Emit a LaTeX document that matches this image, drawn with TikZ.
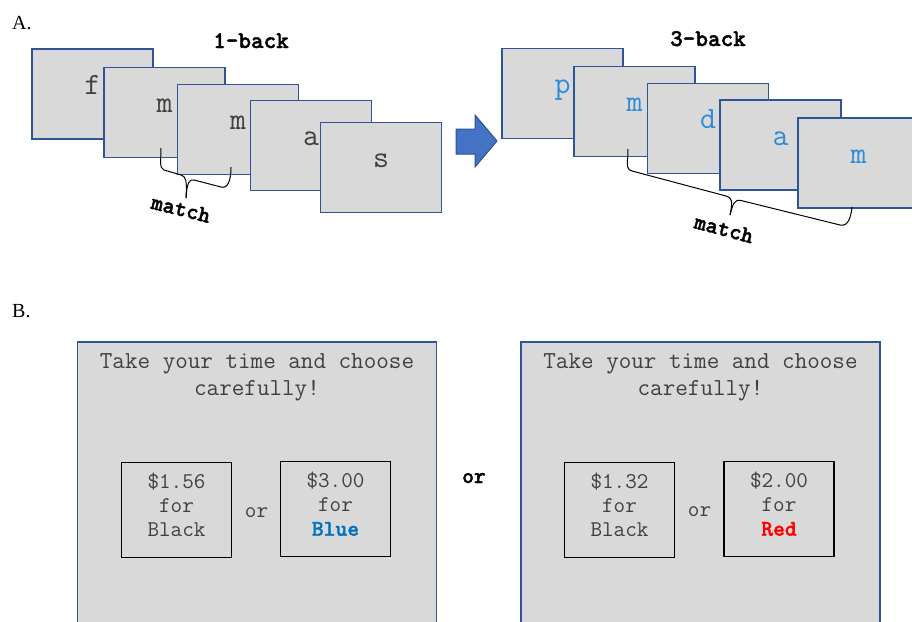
\documentclass[tikz,border=0pt]{standalone}
\usepackage{fontspec}
\setmainfont{Liberation Serif}
\newfontfamily\heavymono{lmmonolt10-bold.otf}[FakeBold=1.6]
\usetikzlibrary{calc}
\definecolor{cardfill}{HTML}{D9D9D9}
\definecolor{cardedge}{HTML}{2F5597}
\definecolor{arrowfill}{HTML}{4472C4}
\definecolor{arrowedge}{HTML}{2F528F}
\definecolor{inktext}{HTML}{404040}
\definecolor{seqblue}{HTML}{2E8BD6}
\definecolor{choiceblue}{HTML}{0070C0}
\definecolor{choicered}{HTML}{FF0000}

\begin{document}
\begin{tikzpicture}[x=1pt,y=-1pt,
  card/.style={draw=cardedge, fill=cardfill, line width=1.6pt,
    minimum width=121pt, minimum height=90pt, inner sep=0pt},
  letter/.style={anchor=base, inner sep=0pt,
    font=\ttfamily\fontsize{31}{31}\selectfont, text=inktext},
  bluelet/.style={letter, text=seqblue},
  title/.style={anchor=base, inner sep=0pt,
    font=\heavymono\fontsize{24}{24}\selectfont},
  matchlbl/.style={inner sep=0pt, font=\heavymono\fontsize{23}{23}\selectfont},
  partlbl/.style={anchor=base west, inner sep=0pt,
    font=\fontsize{20}{20}\selectfont},
  panel/.style={draw=cardedge, fill=cardfill, line width=1.2pt,
    minimum width=359pt, minimum height=300pt, inner sep=0pt},
  heading/.style={align=center, inner sep=0pt, text=inktext,
    font=\ttfamily\fontsize{24.4}{27}\selectfont},
  choice/.style={draw=black, fill=cardfill, line width=1.4pt,
    minimum width=110pt, minimum height=95pt, inner sep=0pt},
  choicetxt/.style={align=center, inner sep=0pt, text=inktext,
    font=\ttfamily\fontsize{22.5}{24}\selectfont},
  ortxt/.style={anchor=base, inner sep=0pt, text=inktext,
    font=\ttfamily\fontsize{22.5}{22.5}\selectfont},
  brace/.style={draw=black, line width=1pt}
]
\clip (0,0) rectangle (912,621);
\fill[white] (0,0) rectangle (912,621);

% ---------- A: n-back sequences ----------
\node[partlbl] (labA) at (12,29) {A.};
\node[title] (t1) at (251,48) {1-back};
\node[title] (t3) at (708,46) {3-back};

% 1-back cards
\node[card] (a1) at (92.5,94)   {};
\node[letter] (a1t) at (a1.center) {f};
\node[card] (a2) at (164.5,112.5) {};
\node[letter] (a2t) at (a2.center) {m};
\node[card] (a3) at (238,129.5) {};
\node[letter] (a3t) at (a3.center) {m};
\node[card] (a4) at (311,145.5) {};
\node[letter] (a4t) at (a4.center) {a};
\node[card] (a5) at (381,167.5) {};
\node[letter] (a5t) at (a5.center) {s};

% 1-back brace
\coordinate (b1s) at (161,148);
\coordinate (b1e) at (231,167);
\coordinate (b1tip) at (186,198);
\draw[brace] (b1s) .. controls (161,160) and (159,168) .. (164,170)
  -- (181,175) .. controls (186,176.5) and (187,180) .. (b1tip);
\draw[brace] (b1tip) .. controls (187,183) and (189,179) .. (194,180)
  -- (221,187) .. controls (228,189) and (231,180) .. (b1e);
\node[matchlbl, rotate=-14] (m1) at (181,209) {match};

% arrow between the two tasks
\draw[fill=arrowfill, draw=arrowedge, line width=1pt]
  (456,129) -- (475,129) -- (475,115) -- (497,141) -- (475,167)
  -- (475,154) -- (456,154) -- cycle;

% 3-back cards
\node[card] (c1) at (562.5,93.5) {};
\node[bluelet] (c1t) at (c1.center) {p};
\node[card] (c2) at (634.5,111.5) {};
\node[bluelet] (c2t) at (c2.center) {m};
\node[card] (c3) at (708,128.5) {};
\node[bluelet] (c3t) at (c3.center) {d};
\node[card] (c4) at (780.5,145) {};
\node[bluelet] (c4t) at (c4.center) {a};
\node[card] (c5) at (858.5,163) {};
\node[bluelet] (c5t) at (c5.center) {m};

% 3-back brace
\coordinate (b3s) at (628,149);
\coordinate (b3e) at (852,207);
\coordinate (b3tip) at (730,215);
\draw[brace] (b3s) .. controls (628,162) and (625,169) .. (632,171)
  -- (726,196) .. controls (732,197.5) and (733,201) .. (b3tip);
\draw[brace] (b3tip) .. controls (733,203) and (735,199) .. (741,200.5)
  -- (840,225) .. controls (848,227) and (851,217) .. (b3e);
\node[matchlbl, rotate=-15] (m3) at (724,229) {match};

% ---------- B: choice screens ----------
\node[partlbl] (labB) at (12,317) {B.};

% left screen
\node[panel] (p1) at (257,492) {};
\node[heading] (h1) at (257,377) {Take your time and choose\\carefully!};
\node[choice] (l1) at (176.5,510) {};
\node[choicetxt] (l1t) at (176.5,505) {\$1.56\\for\\Black};
\node[choice] (l2) at (335.5,509) {};
\node[choicetxt] (l2t) at (335.5,504) {\$3.00\\for\\{\heavymono\color{choiceblue}Blue}};
\node[ortxt] (o1) at (256.5,517) {or};

% middle
\node[ortxt, text=black, font=\heavymono\fontsize{22.5}{22.5}\selectfont] (om) at (474,483) {or};

% right screen
\node[panel] (p2) at (700.5,492) {};
\node[heading] (h2) at (700.5,377) {Take your time and choose\\carefully!};
\node[choice] (r1) at (619.5,510) {};
\node[choicetxt] (r1t) at (619.5,505) {\$1.32\\for\\Black};
\node[choice] (r2) at (779,509) {};
\node[choicetxt] (r2t) at (779,504) {\$2.00\\for\\{\heavymono\color{choicered}Red}};
\node[ortxt] (o2) at (699.5,516) {or};
\end{tikzpicture}
\end{document}
